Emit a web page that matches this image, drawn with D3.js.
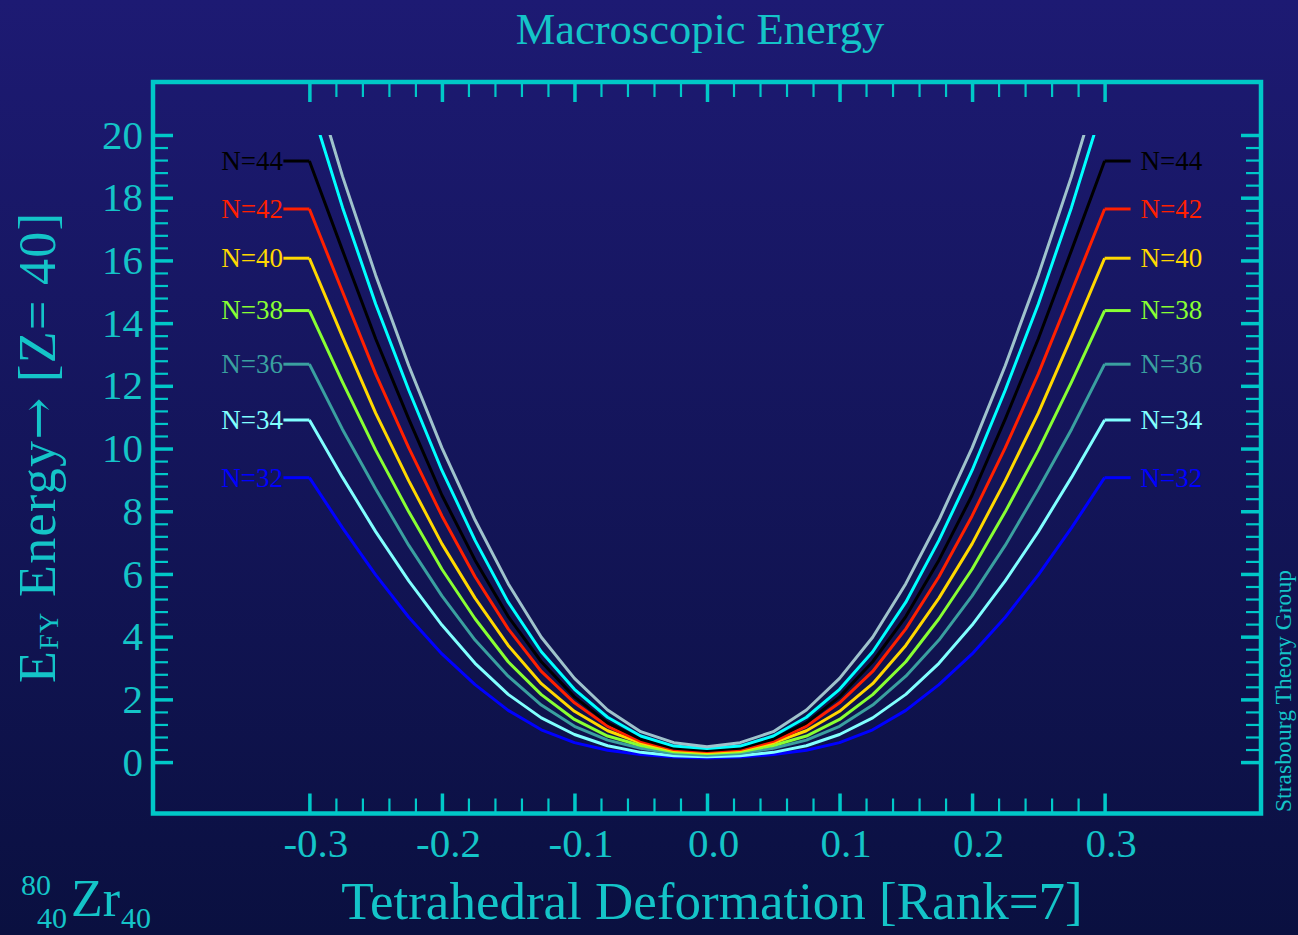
<!DOCTYPE html>
<html>
<head>
<meta charset="utf-8">
<script src="https://cdn.jsdelivr.net/npm/d3@7/dist/d3.min.js"></script>
<style>
html,body{margin:0;padding:0;background:#0a1040;}
svg{display:block;}
text{font-family:"Liberation Serif","DejaVu Serif",serif;}
</style>
</head>
<body>
<svg id="chart" width="1298" height="935"></svg>
<script>
// ---------------- data ----------------
const deformation = [-0.3,-0.275,-0.25,-0.225,-0.2,-0.175,-0.15,-0.125,-0.1,-0.075,-0.05,-0.025,0,
                     0.025,0.05,0.075,0.1,0.125,0.15,0.175,0.2,0.225,0.25,0.275,0.3];

const seriesNames = ["N=32","N=34","N=36","N=38","N=40","N=42","N=44","N=46","N=48"];
const seriesColors = ["#0000ff","#80ffff","#3aa0a0","#88ff33","#ffd800","#ff2000","#000000","#00ffff","#9fc3cc"];

const energyN32 = [9.07,7.47,5.97,4.62,3.45,2.47,1.65,1.03,0.62,0.38,0.24,0.16,0.13,0.16,0.24,0.38,0.62,1.03,1.65,2.47,3.45,4.62,5.97,7.47,9.07];
const energyN34 = [10.91,9.08,7.35,5.78,4.37,3.15,2.16,1.41,0.88,0.52,0.31,0.20,0.17,0.20,0.31,0.52,0.88,1.41,2.16,3.15,4.37,5.78,7.35,9.08,10.91];
const energyN36 = [12.69,10.61,8.71,6.91,5.30,3.89,2.74,1.82,1.14,0.70,0.44,0.27,0.22,0.27,0.44,0.70,1.14,1.82,2.74,3.89,5.30,6.91,8.71,10.61,12.69];
const energyN38 = [14.40,12.12,9.95,7.98,6.15,4.57,3.20,2.15,1.36,0.83,0.53,0.33,0.27,0.33,0.53,0.83,1.36,2.15,3.20,4.57,6.15,7.98,9.95,12.12,14.40];
const energyN40 = [16.07,13.56,11.13,8.97,6.96,5.23,3.72,2.50,1.62,1.00,0.61,0.37,0.30,0.37,0.61,1.00,1.62,2.50,3.72,5.23,6.96,8.97,11.13,13.56,16.07];
const energyN42 = [17.64,15.00,12.38,10.02,7.85,5.91,4.25,2.89,1.89,1.14,0.66,0.40,0.34,0.40,0.66,1.14,1.89,2.89,4.25,5.91,7.85,10.02,12.38,15.00,17.64];
const energyN44 = [19.17,16.32,13.50,10.94,8.51,6.44,4.64,3.20,2.08,1.25,0.73,0.44,0.37,0.44,0.73,1.25,2.08,3.20,4.64,6.44,8.51,10.94,13.50,16.32,19.17];
const energyN46 = [21.10,17.69,14.61,11.86,9.30,7.07,5.10,3.52,2.32,1.43,0.83,0.51,0.43,0.51,0.83,1.43,2.32,3.52,5.10,7.07,9.30,11.86,14.61,17.69,21.10];
const energyN48 = [22.20,18.68,15.53,12.64,10.02,7.72,5.69,3.98,2.67,1.66,0.97,0.62,0.49,0.62,0.97,1.66,2.67,3.98,5.69,7.72,10.02,12.64,15.53,18.68,22.20];

const allSeries = [energyN32,energyN34,energyN36,energyN38,energyN40,energyN42,energyN44,energyN46,energyN48];

const xTickValues = [-0.3,-0.2,-0.1,0.0,0.1,0.2,0.3];
const xTickLabels = ["-0.3","-0.2","-0.1","0.0","0.1","0.2","0.3"];
const yTickValues = [0,2,4,6,8,10,12,14,16,18,20];
const yTickLabels = ["0","2","4","6","8","10","12","14","16","18","20"];

const titleText = "Macroscopic Energy";
const xAxisTitle = "Tetrahedral Deformation [Rank=7]";
const creditText = "Strasbourg Theory Group";

// ---------------- drawing ----------------
const W = 1298, H = 935;
const svg = d3.select("#chart");
const CYAN = "#00c8c8";
const TEXTC = "#14c4c8";

const defs = svg.append("defs");
const grad = defs.append("linearGradient").attr("id","bg")
  .attr("x1",0).attr("y1",0).attr("x2",0).attr("y2",1);
grad.append("stop").attr("offset","0%").attr("stop-color","#1d1a73");
grad.append("stop").attr("offset","100%").attr("stop-color","#0a1040");
svg.append("rect").attr("width",W).attr("height",H).attr("fill","url(#bg)");

const L = 153, R = 1261, T = 82, B = 813.5;
const x = d3.scaleLinear().domain([-0.418,0.418]).range([L,R]);
const y = d3.scaleLinear().domain([-1.64,21.69]).range([B,T]);

defs.append("clipPath").attr("id","clip").append("rect")
  .attr("x",L).attr("y",y(20)).attr("width",R-L).attr("height",B-y(20));

// minor tick positions
const xMinor = d3.range(-0.3,0.3001,0.02).filter(v => Math.abs(Math.round(v*10)-v*10) > 1e-6);
const yMinor = d3.range(0,20.0001,0.4).filter(v => Math.abs(Math.round(v/2)*2 - v) > 1e-6);

function styleAxis(g, w){
  g.select(".domain").remove();
  g.selectAll(".tick line").attr("stroke",CYAN).attr("stroke-width",w);
}

// left axis
const gL = svg.append("g").attr("transform",`translate(${L},0)`);
gL.append("g").call(d3.axisLeft(y).tickValues(yMinor).tickSize(-15).tickFormat("")).call(g=>styleAxis(g,2.2));
gL.append("g").call(d3.axisLeft(y).tickValues(yTickValues).tickSize(-20).tickPadding(10)
    .tickFormat((d,i)=>yTickLabels[i])).call(g=>styleAxis(g,3.5))
  .selectAll("text").attr("fill",TEXTC).attr("font-size",41)
  .style("font-family",'"Liberation Serif","DejaVu Serif",serif');

// right axis
const gR = svg.append("g").attr("transform",`translate(${R},0)`);
gR.append("g").call(d3.axisRight(y).tickValues(yMinor).tickSize(-15).tickFormat("")).call(g=>styleAxis(g,2.2));
gR.append("g").call(d3.axisRight(y).tickValues(yTickValues).tickSize(-20).tickFormat("")).call(g=>styleAxis(g,3.5));

// top axis
const gT = svg.append("g").attr("transform",`translate(0,${T})`);
gT.append("g").call(d3.axisTop(x).tickValues(xMinor).tickSize(-15).tickFormat("")).call(g=>styleAxis(g,2.2));
gT.append("g").call(d3.axisTop(x).tickValues(xTickValues).tickSize(-20).tickFormat("")).call(g=>styleAxis(g,3.5));

// bottom axis
const gB = svg.append("g").attr("transform",`translate(0,${B})`);
gB.append("g").call(d3.axisBottom(x).tickValues(xMinor).tickSize(-15).tickFormat("")).call(g=>styleAxis(g,2.2));
const gBm = gB.append("g").call(d3.axisBottom(x).tickValues(xTickValues).tickSize(-20).tickPadding(14)
    .tickFormat((d,i)=>xTickLabels[i])).call(g=>styleAxis(g,3.5));
gBm.selectAll("text").attr("fill",TEXTC).attr("font-size",41).attr("dx",6)
  .style("font-family",'"Liberation Serif","DejaVu Serif",serif');

// curves
const line = d3.line().x((d,i)=>x(deformation[i])).y(d=>y(d));
const gC = svg.append("g").attr("clip-path","url(#clip)");
gC.selectAll("path").data(allSeries).join("path")
  .attr("d",line).attr("fill","none")
  .attr("stroke",(d,i)=>seriesColors[i]).attr("stroke-width",3)
  .attr("stroke-linejoin","round");

// labels with leader lines
const gLab = svg.append("g");
allSeries.forEach((s,i)=>{
  const n = s.length;
  const vL = s[0], vR = s[n-1];
  const col = seriesColors[i];
  if (vL <= 20){
    const x0 = x(deformation[0]), y0 = y(vL);
    gLab.append("line").attr("x1",x0).attr("y1",y0).attr("x2",x0-26).attr("y2",y0)
      .attr("stroke",col).attr("stroke-width",3);
    gLab.append("text").attr("x",x0-26.5).attr("y",y0).attr("dy","0.33em")
      .attr("text-anchor","end").attr("font-size",27).attr("fill",col).text(seriesNames[i]);
  }
  if (vR <= 20){
    const x1 = x(deformation[n-1]), y1 = y(vR);
    gLab.append("line").attr("x1",x1).attr("y1",y1).attr("x2",x1+26).attr("y2",y1)
      .attr("stroke",col).attr("stroke-width",3);
    gLab.append("text").attr("x",x1+36).attr("y",y1).attr("dy","0.33em")
      .attr("text-anchor","start").attr("font-size",27).attr("fill",col).text(seriesNames[i]);
  }
});

// frame
svg.append("rect").attr("x",L).attr("y",T).attr("width",R-L).attr("height",B-T)
  .attr("fill","none").attr("stroke",CYAN).attr("stroke-width",4.5);

// title
svg.append("text").attr("x",700).attr("y",44).attr("text-anchor","middle")
  .attr("font-size",44.5).attr("fill",TEXTC).text(titleText);

// x-axis title
svg.append("text").attr("x",712).attr("y",919).attr("text-anchor","middle")
  .attr("font-size",53).attr("fill",TEXTC).text(xAxisTitle);

// y-axis title
const yt = svg.append("text").attr("transform","translate(55,448) rotate(-90)")
  .attr("text-anchor","middle").attr("font-size",52).attr("fill",TEXTC)
  .attr("textLength",470).attr("lengthAdjust","spacing");
yt.append("tspan").text("E");
yt.append("tspan").attr("font-size",28).attr("dy",3).text("FY");
yt.append("tspan").attr("dy",-3).text(" Energy");
yt.append("tspan").style("font-family",'"DejaVu Serif",serif').attr("font-size",50).text("\u2192");
yt.append("tspan").text(" [Z= 40]");

// nuclide label
const nuc = svg.append("g").attr("fill",TEXTC);
nuc.append("text").attr("x",21).attr("y",895).attr("font-size",30).text("80");
nuc.append("text").attr("x",37).attr("y",928).attr("font-size",30).text("40");
nuc.append("text").attr("x",71).attr("y",916).attr("font-size",52).text("Zr");
nuc.append("text").attr("x",121).attr("y",928).attr("font-size",30).text("40");

// credit
svg.append("text").attr("transform","translate(1291,812) rotate(-90)")
  .attr("text-anchor","start").attr("font-size",23.5).attr("fill",TEXTC)
  .attr("textLength",242).attr("lengthAdjust","spacing").text(creditText);
</script>
</body>
</html>
